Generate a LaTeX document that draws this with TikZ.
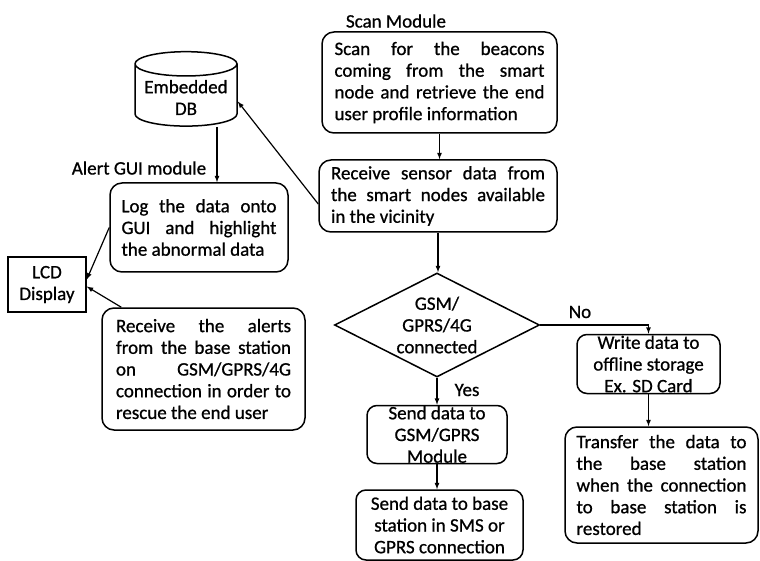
\documentclass[tikz,border=0pt]{standalone}
\usepackage{fontspec}
\setmainfont{Carlito}[FakeBold=0.8]
\usetikzlibrary{shapes.geometric}

\begin{document}
\begin{tikzpicture}[x=1pt,y=-1pt,
  font=\fontsize{19}{21.7}\selectfont,
  jbox/.style={draw,rounded corners=12pt,line width=1.5pt,align=justify},
  cbox/.style={draw,rounded corners=10pt,line width=1.5pt,align=center},
  arr/.style={-latex,line width=1.2pt}]
\useasboundingbox (0,0) rectangle (760,561);
% scan module
\node at (396,21) {Scan Module};
\node[jbox,minimum width=235pt,minimum height=101pt,text width=210pt] (scan) at (439.5,82.5)
{Scan for the beacons\linebreak coming from the smart\linebreak node and retrieve the end\linebreak user profile information};
\node[jbox,minimum width=238pt,minimum height=72pt,text width=214pt] (recv) at (438,196)
{Receive sensor data from\linebreak the smart nodes available\linebreak in the vicinity};
% alert GUI module
\node[draw,cylinder,shape border rotate=90,aspect=0.27,line width=1.5pt,align=center,
  minimum width=102pt,minimum height=58pt] (db) at (186,97.5) {Embedded\\DB};
\node at (139,168) {Alert GUI module};
\node[jbox,minimum width=178pt,minimum height=89pt,text width=155pt] (log) at (199,227.5)
{Log the data onto\linebreak GUI and highlight\linebreak the abnormal data};
\node[draw,line width=1.5pt,align=center,minimum width=78pt,minimum height=55pt] (lcd) at (47,284.5)
{LCD\\Display};
\node[jbox,minimum width=203pt,minimum height=122pt,text width=175pt] (alert) at (203.5,369)
{Receive the alerts\linebreak from the base station\linebreak on GSM/GPRS/4G\linebreak connection in order to\linebreak rescue the end user};
% decision
\node[draw,diamond,aspect=2,inner sep=0pt,line width=1.5pt,align=center,
  minimum width=205pt,minimum height=104pt] (dec) at (437,325) {GSM/\\GPRS/4G\\connected};
\node[cbox,minimum width=143pt,minimum height=59pt,inner ysep=-8pt] (write) at (648.5,364)
{Write data to\\offline storage\\Ex. SD Card};
\node[jbox,minimum width=193pt,minimum height=116pt,text width=170pt] (trans) at (661.5,485)
{Transfer the data to\linebreak the base station\linebreak when the connection\linebreak to base station is\linebreak restored};
\node[cbox,minimum width=140pt,minimum height=58pt,inner ysep=-8pt] (send) at (437,434.5)
{Send data to\\GSM/GPRS\\Module};
\node[cbox,minimum width=167pt,minimum height=70pt] (base) at (439.5,525)
{Send data to base\\station in SMS or\\GPRS connection};
\node at (580,312) {No};
\node at (467,390) {Yes};
% connectors
\draw[arr] (scan.south) -- (scan.south |- recv.north);
\draw[arr] ([yshift=-8pt]recv.west) -- ([yshift=-4pt]db.east);
\draw[arr] ([xshift=31pt]db.south) -- ([xshift=31pt]db.south |- log.north);
\draw[arr] (log.west) -- ([yshift=5pt]lcd.east);
\draw[arr] ([xshift=20pt]alert.north west) -- ([yshift=-2pt]lcd.east);
\draw[arr] (recv.south) -- (recv.south |- dec.north);
\draw[arr] (dec.east) -- (write.north |- dec.east) -- (write.north);
\draw[arr] (dec.south) -- (dec.south |- send.north);
\draw[arr] (send.south) -- (send.south |- base.north);
\draw[arr] (write.south) -- (write.south |- trans.north);
\end{tikzpicture}
\end{document}
